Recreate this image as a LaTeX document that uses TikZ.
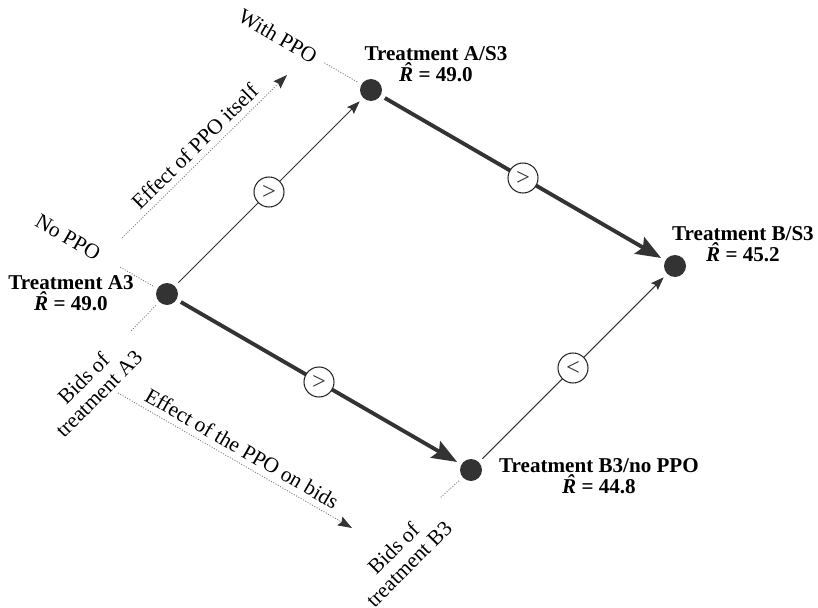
\documentclass[tikz,border=0pt]{standalone}
\usepackage{fontspec}
\setmainfont{Liberation Serif}
\usetikzlibrary{arrows.meta}

\newcommand{\rhatval}[1]{\textit{\accent"02C6 R} = #1}

\begin{document}
\begin{tikzpicture}[
  font=\fontsize{12.2}{12.4}\selectfont,
  dot/.style={circle,fill=black!80,minimum size=0.44cm,inner sep=0pt,outer sep=0.1cm},
  cmp/.style={circle,draw=black!85,fill=white,line width=0.6pt,minimum size=0.6cm,inner sep=0pt,font=\fontsize{14}{14}\selectfont},
  thinarrow/.style={black!80,line width=0.6pt,-{Stealth[length=0.26cm,width=0.19cm,inset=0.04cm]}},
  thickarrow/.style={black!80,line width=2.2pt,-{Stealth[length=0.5cm,width=0.38cm,inset=0.08cm]}},
  guide/.style={black!50,line width=0.5pt,dash pattern=on 0.6pt off 0.9pt},
  effect/.style={guide,-{Stealth[black!80,length=0.28cm,width=0.2cm,inset=0.04cm]}},
  lbl/.style={align=center,font=\fontsize{12}{12.2}\selectfont\bfseries}
]
  \useasboundingbox (0,0) rectangle (16.36,12.14);

  \node[dot] (a3) at (3.34,6.26) {};
  \node[dot] (as3) at (7.42,10.34) {};
  \node[dot] (bs3) at (13.50,6.82) {};
  \node[dot] (b3) at (9.42,2.74) {};

  \node[lbl] (a3lbl) at (1.42,6.28) {Treatment A3\\ \rhatval{49.0}};
  \node[lbl] (as3lbl) at (8.72,10.86) {Treatment A/S3\\ \rhatval{49.0}};
  \node[lbl] (bs3lbl) at (14.86,7.26) {Treatment B/S3\\ \rhatval{45.2}};
  \node[lbl] (b3lbl) at (11.98,2.62) {Treatment B3/no PPO\\ \rhatval{44.8}};

  \draw[thinarrow] (a3) -- node[cmp] (c1) {>} (as3);
  \draw[thickarrow] (as3) -- node[cmp] (c2) {>} (bs3);
  \draw[thickarrow] (a3) -- node[cmp] (c3) {>} (b3);
  \draw[thinarrow] (b3) -- node[cmp] (c4) {<} (bs3);

  \coordinate (withend) at (6.46,10.90);
  \coordinate (noend) at (2.40,6.80);
  \coordinate (bidsaend) at (2.60,5.50);
  \coordinate (bidsbend) at (8.80,2.18);
  \draw[guide] (as3) -- (withend);
  \draw[guide] (a3) -- (noend);
  \draw[guide] (a3) -- (bidsaend);
  \draw[guide] (b3) -- (bidsbend);

  \node[rotate=-30] (withlbl) at (5.56,11.42) {With PPO};
  \node[rotate=-30] (nolbl) at (1.36,7.40) {No PPO};
  \node[rotate=45,align=center] (bidsalbl) at (1.82,4.42) {Bids of\\ treatment A3};
  \node[rotate=45,align=center] (bidsblbl) at (8.02,1.02) {Bids of\\ treatment B3};

  \coordinate (itselfa) at (2.44,7.38);
  \coordinate (itselfb) at (5.74,10.64);
  \coordinate (bidsa) at (2.36,4.28);
  \coordinate (bidsb) at (7.04,1.58);
  \draw[effect] (itselfa) -- node[above,sloped,black] {Effect of PPO itself} (itselfb);
  \draw[effect] (bidsa) -- node[above,sloped,black] {Effect of the PPO on bids} (bidsb);
\end{tikzpicture}
\end{document}
